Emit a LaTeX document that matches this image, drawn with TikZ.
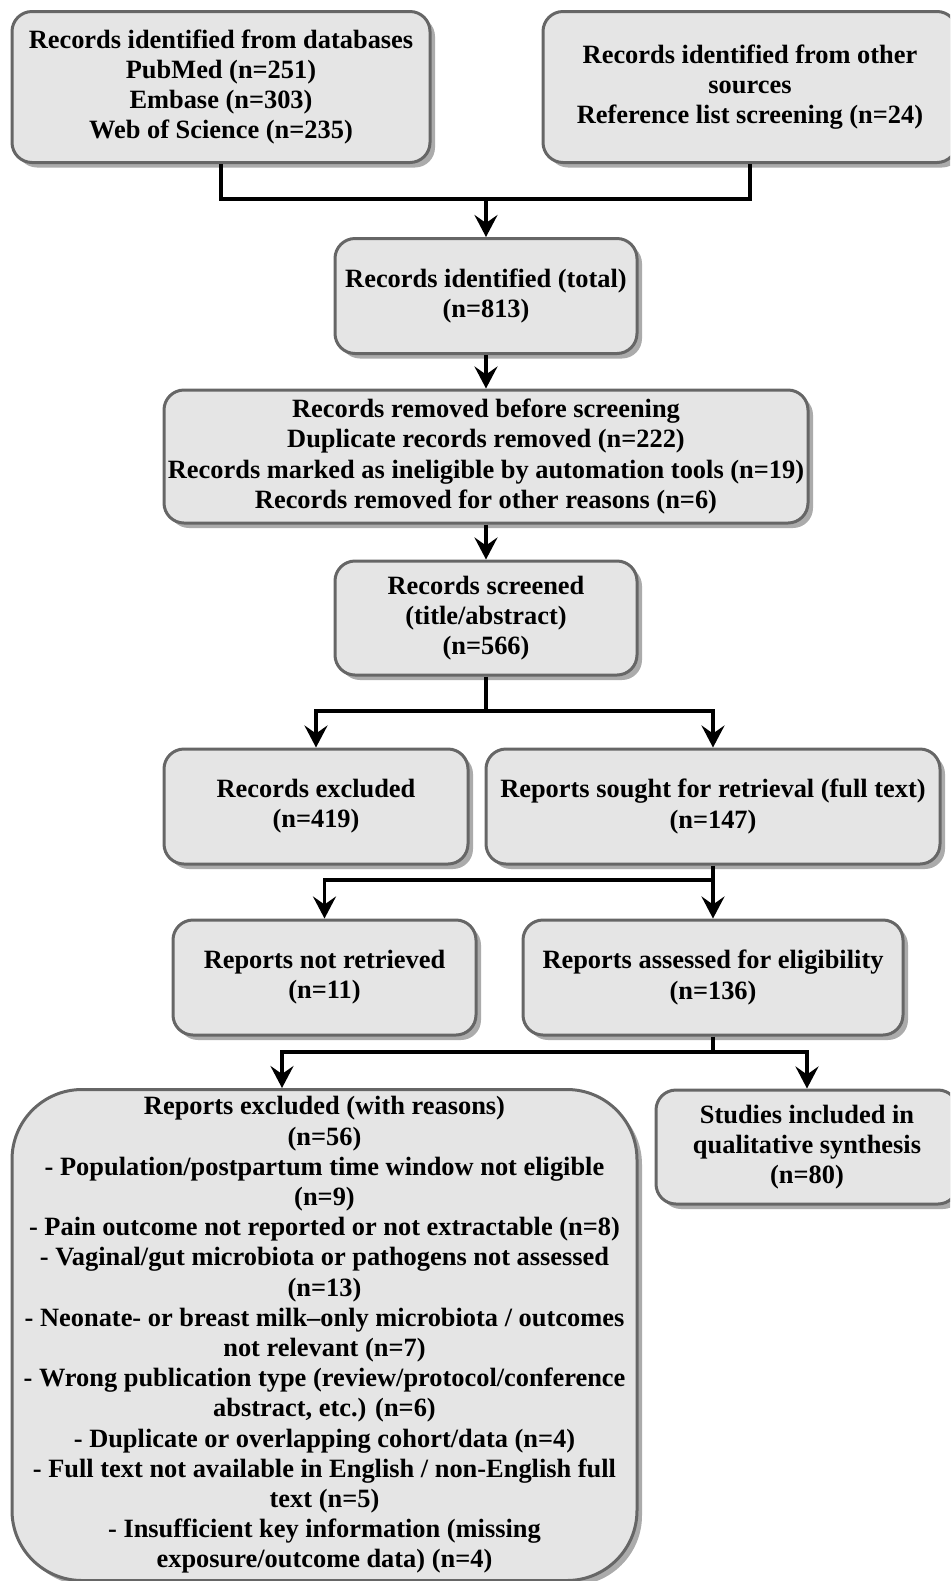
\documentclass[tikz,border=0pt]{standalone}
\usepackage{fontspec}
\setmainfont{Liberation Serif}
\usetikzlibrary{arrows.meta,shadows}
\tikzset{
  caja/.style={draw=black!60, line width=1.5pt, fill=black!10, rounded corners=10pt,
    align=center, inner sep=0pt, font=\bfseries\fontsize{13.2}{15.1}\selectfont,
    drop shadow={shadow xshift=2.5pt, shadow yshift=-2.5pt, fill=black!33, opacity=1}},
  linea/.style={line width=1.75pt},
  flecha/.style={linea, -{Stealth[length=11pt,width=11.5pt,inset=4pt]}}
}
\begin{document}
\begin{tikzpicture}[x=0.5pt,y=-0.5pt]
        \useasboundingbox (0,0) rectangle (950,1581);
        \clip (0,0) rectangle (950,1581);
        \node[caja, minimum width=209pt, minimum height=75.5pt] (db) at (221,87) {Records identified from databases\\PubMed (n=251)\\Embase (n=303)\\Web of Science (n=235)};
        \node[caja, minimum width=207pt, minimum height=75.5pt] (oth) at (750,87) {Records identified from other\\sources\\Reference list screening (n=24)};
        \node[caja, minimum width=151pt, minimum height=57.5pt] (total) at (486,296) {Records identified (total)\\(n=813)};
        \node[caja, minimum width=322pt, minimum height=66.5pt] (rem) at (486,456.5) {Records removed before screening\\Duplicate records removed (n=222)\\Records marked as ineligible by automation tools (n=19)\\Records removed for other reasons (n=6)};
        \node[caja, minimum width=151pt, minimum height=57pt] (screened) at (486,618) {Records screened\\(title/abstract)\\(n=566)};
        \node[caja, minimum width=152pt, minimum height=57.5pt] (excl) at (316,806.5) {Records excluded\\(n=419)};
        \node[caja, minimum width=227pt, minimum height=57.5pt] (sought) at (713,806.5) {Reports sought for retrieval (full text)\\(n=147)};
        \node[caja, minimum width=151.5pt, minimum height=57.5pt] (notret) at (324.5,977.5) {Reports not retrieved\\(n=11)};
        \node[caja, minimum width=190pt, minimum height=57.5pt] (assess) at (713,977.5) {Reports assessed for eligibility\\(n=136)};
        \node[caja, rounded corners=35pt, minimum width=312.5pt, minimum height=245.5pt] (rexcl) at (324.5,1335) {Reports excluded (with reasons)\\(n=56)\\- Population/postpartum time window not eligible\\(n=9)\\- Pain outcome not reported or not extractable (n=8)\\- Vaginal/gut microbiota or pathogens not assessed\\(n=13)\\- Neonate- or breast milk–only microbiota / outcomes\\not relevant (n=7)\\- Wrong publication type (review/protocol/conference\\abstract, etc.) (n=6)\\- Duplicate or overlapping cohort/data (n=4)\\- Full text not available in English / non-English full\\text (n=5)\\- Insufficient key information (missing\\exposure/outcome data) (n=4)};
        \node[caja, minimum width=151pt, minimum height=57pt] (incl) at (807,1147) {Studies included in\\qualitative synthesis\\(n=80)};
        \coordinate (j1) at (486,199);
        \coordinate (j2) at (486,711);
        \coordinate (j3) at (713,880);
        \coordinate (j4) at (713,1052);
        \draw[linea] (db.south) |- (j1) -| (oth.south);
        \draw[flecha] (j1) -- (total.north);
        \draw[flecha] (total.south) -- (rem.north);
        \draw[flecha] (rem.south) -- (screened.north);
        \draw[linea] (screened.south) -- (j2);
        \draw[flecha] (j2) -| (excl.north);
        \draw[flecha] (j2) -| (sought.north);
        \draw[flecha] (sought.south) -- (assess.north);
        \draw[flecha] (j3) -| (notret.north);
        \draw[linea] (assess.south) -- (j4);
        \draw[flecha] (j4) -| (282,0 |- rexcl.north);
        \draw[flecha] (j4) -| (incl.north);
\end{tikzpicture}
\end{document}
